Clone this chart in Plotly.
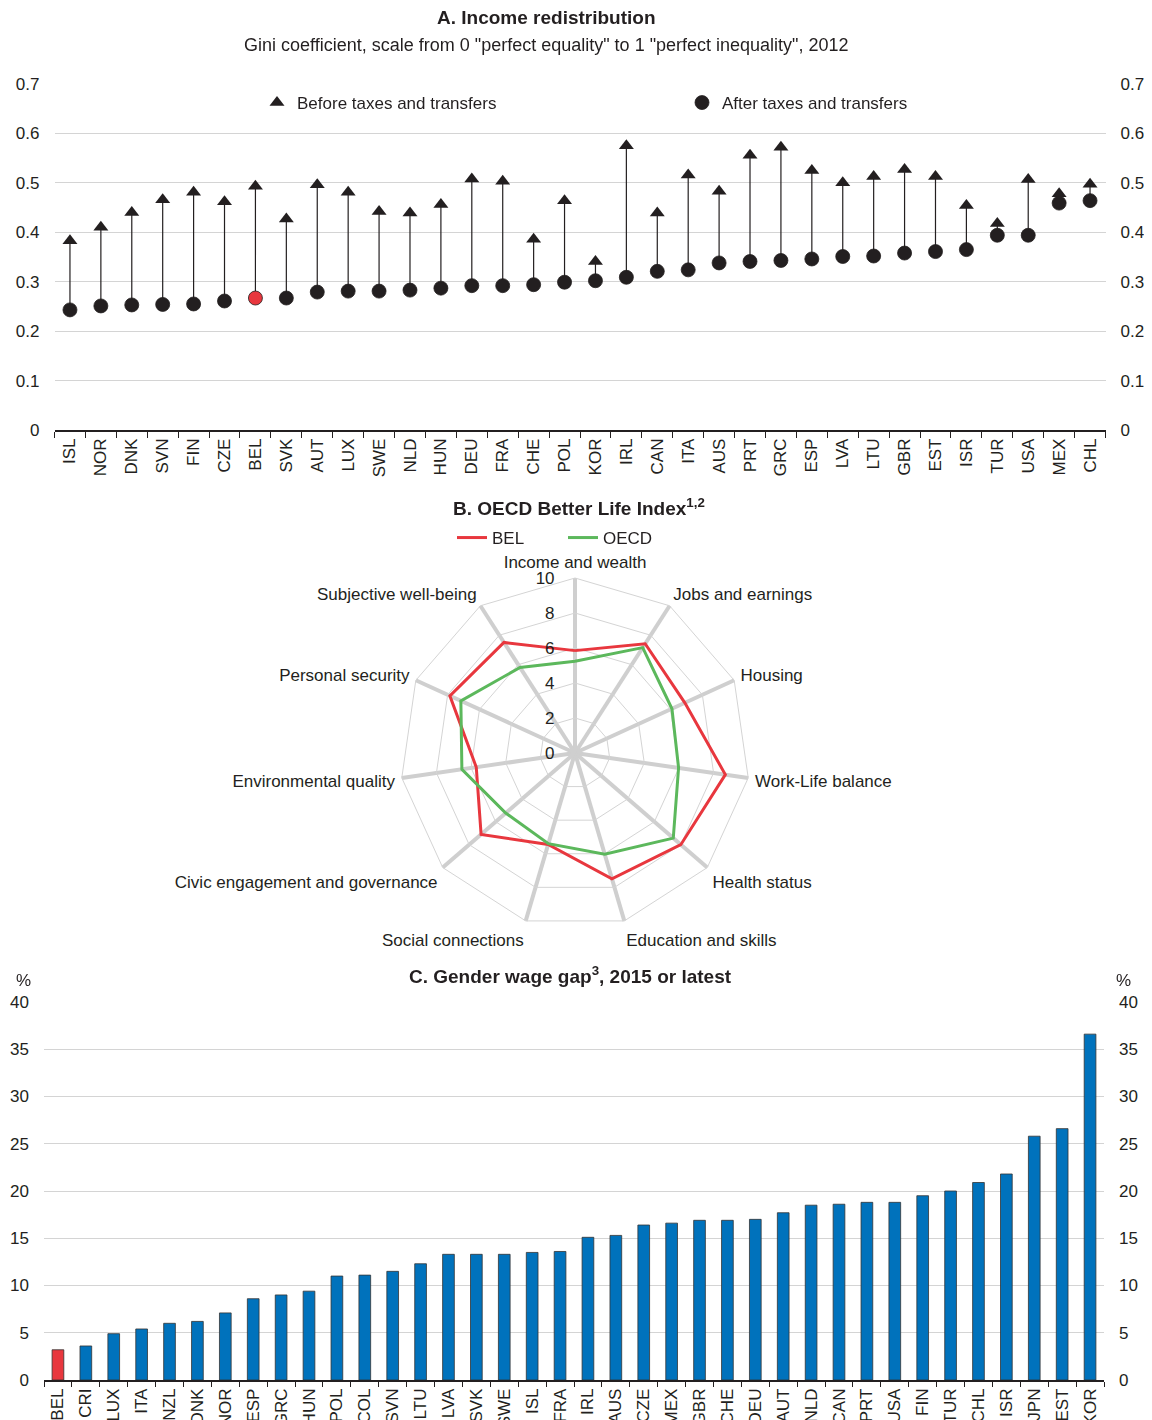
import plotly.graph_objects as go

# Panel A: Gini coefficient before / after taxes and transfers, 2012
gini_countries = ["ISL", "NOR", "DNK", "SVN", "FIN", "CZE", "BEL", "SVK", "AUT", "LUX", "SWE",
                  "NLD", "HUN", "DEU", "FRA", "CHE", "POL", "KOR", "IRL", "CAN", "ITA", "AUS",
                  "PRT", "GRC", "ESP", "LVA", "LTU", "GBR", "EST", "ISR", "TUR", "USA", "MEX", "CHL"]
gini_before = [0.383, 0.410, 0.440, 0.466, 0.481, 0.462, 0.493, 0.427, 0.496, 0.481, 0.442,
               0.439, 0.456, 0.508, 0.503, 0.386, 0.464, 0.341, 0.575, 0.439, 0.516, 0.483,
               0.556, 0.572, 0.525, 0.500, 0.513, 0.527, 0.513, 0.454, 0.418, 0.507, 0.478, 0.497]
gini_after = [0.243, 0.251, 0.253, 0.254, 0.255, 0.261, 0.267, 0.267, 0.279, 0.281, 0.281,
              0.283, 0.287, 0.292, 0.292, 0.294, 0.299, 0.302, 0.309, 0.321, 0.324, 0.338,
              0.341, 0.343, 0.346, 0.351, 0.352, 0.358, 0.361, 0.365, 0.394, 0.394, 0.459, 0.464]

# Panel B: Better Life Index
bli_dims = ["Income and wealth", "Jobs and earnings", "Housing", "Work-Life balance",
            "Health status", "Education and skills", "Social connections",
            "Civic engagement and governance", "Environmental quality",
            "Personal security", "Subjective well-being"]
bli_bel = [5.85, 7.42, 6.9, 8.68, 8.0, 7.49, 5.45, 7.1, 5.7, 7.86, 7.51]
bli_oecd = [5.24, 7.16, 6.09, 5.98, 7.43, 6.03, 5.4, 5.24, 6.53, 7.17, 5.81]

# Panel C: gender wage gap, %
gap_countries = ["BEL", "CRI", "LUX", "ITA", "NZL", "DNK", "NOR", "ESP", "GRC", "HUN", "POL",
                 "COL", "SVN", "LTU", "LVA", "SVK", "SWE", "ISL", "FRA", "IRL", "AUS", "CZE",
                 "MEX", "GBR", "CHE", "DEU", "AUT", "NLD", "CAN", "PRT", "USA", "FIN", "TUR",
                 "CHL", "ISR", "JPN", "EST", "KOR"]
gap_values = [3.2, 3.6, 4.9, 5.4, 6.0, 6.2, 7.1, 8.6, 9.0, 9.4, 11.0,
              11.1, 11.5, 12.3, 13.3, 13.3, 13.3, 13.5, 13.6, 15.1, 15.3, 16.4,
              16.6, 16.9, 16.9, 17.0, 17.7, 18.5, 18.6, 18.8, 18.8, 19.5, 20.0,
              20.9, 21.8, 25.8, 26.6, 36.6]

FONT = "Liberation Sans Narrow, Liberation Sans, Arial, sans-serif"
TXT = "#231f20"
DARK = "#231f20"
RED = "#e8373e"
GREEN = "#5cb85c"
BLUE = "#0072bc"
GRID = "#d4d4d4"

# page body has an 8px margin, so the figure is a little smaller than the window
PAD = 8
W, H = 1152 - PAD, 1420 - PAD


def px_x(v):
    return (v - PAD) / W


def px_y(v):
    return 1 - (v - PAD) / H


fig = go.Figure()

# stems from after to before
stem_x, stem_y = [], []
for c, a, b in zip(gini_countries, gini_after, gini_before):
    stem_x += [c, c, None]
    stem_y += [a, b, None]
fig.add_trace(go.Scatter(x=stem_x, y=stem_y, mode="lines", line=dict(color=DARK, width=1.2),
                         showlegend=False, hoverinfo="skip", xaxis="x", yaxis="y"))
fig.add_trace(go.Scatter(x=gini_countries, y=gini_before, mode="markers",
                         name="Before taxes and transfers",
                         marker=dict(symbol="triangle-up", size=13, color=DARK),
                         legend="legend", xaxis="x", yaxis="y"))
after_colors = [RED if c == "BEL" else DARK for c in gini_countries]
fig.add_trace(go.Scatter(x=gini_countries, y=gini_after, mode="markers",
                         name="After taxes and transfers",
                         marker=dict(symbol="circle", size=14, color=after_colors,
                                     line=dict(color=DARK, width=0.8)),
                         legend="legend", xaxis="x", yaxis="y"))
# invisible trace for the right-hand axis
fig.add_trace(go.Scatter(x=gini_countries, y=gini_after, mode="markers", opacity=0,
                         showlegend=False, hoverinfo="skip", xaxis="x", yaxis="y2"))

# radar
fig.add_trace(go.Scatterpolar(r=bli_bel + bli_bel[:1], theta=bli_dims + bli_dims[:1], mode="lines",
                              name="BEL", line=dict(color=RED, width=3), legend="legend2",
                              subplot="polar"))
fig.add_trace(go.Scatterpolar(r=bli_oecd + bli_oecd[:1], theta=bli_dims + bli_dims[:1], mode="lines",
                              name="OECD", line=dict(color=GREEN, width=3), legend="legend2",
                              subplot="polar"))

# bars
bar_colors = [RED if c == "BEL" else BLUE for c in gap_countries]
fig.add_trace(go.Bar(x=gap_countries, y=gap_values, marker=dict(color=bar_colors,
                                                                line=dict(color="#333333", width=0.8)),
                     width=0.42, showlegend=False, xaxis="x3", yaxis="y3"))
fig.add_trace(go.Scatter(x=gap_countries, y=gap_values, mode="markers", opacity=0,
                         showlegend=False, hoverinfo="skip", xaxis="x3", yaxis="y4"))

tickfont = dict(family=FONT, size=17, color=TXT)

# panel A axes
a_left, a_right = 54.5, 1105.5
fig.update_layout(
    xaxis=dict(domain=[px_x(a_left), px_x(a_right)], anchor="y", type="category",
               tickangle=-90, tickfont=tickfont, showline=True, linecolor=DARK, linewidth=1.5,
               ticks="outside", tickson="boundaries", ticklen=6, tickcolor=DARK,
               showgrid=False, range=[-0.5, len(gini_countries) - 0.5], automargin=False),
    yaxis=dict(domain=[px_y(430), px_y(84)], anchor="x", range=[0, 0.7], dtick=0.1,
               tickformat=".1~f", tickfont=tickfont, gridcolor=GRID, gridwidth=1.3,
               zeroline=False, ticklabelstandoff=14, automargin=False),
    yaxis2=dict(overlaying="y", side="right", anchor="x", range=[0, 0.7], dtick=0.1,
                tickformat=".1~f", tickfont=tickfont, showgrid=False, zeroline=False,
                ticklabelstandoff=14, automargin=False),
)

# panel C axes
c_left, c_right = 44, 1104
fig.update_layout(
    xaxis3=dict(domain=[px_x(c_left), px_x(c_right)], anchor="y3", type="category",
                tickangle=-90, tickfont=tickfont, showline=True, linecolor=DARK, linewidth=1.5,
                ticks="outside", tickson="boundaries", ticklen=5, tickcolor=DARK,
                showgrid=False, range=[-0.5, len(gap_countries) - 0.5], automargin=False),
    yaxis3=dict(domain=[px_y(1380), px_y(1002)], anchor="x3", range=[0, 40], dtick=5,
                tickfont=tickfont, gridcolor=GRID, gridwidth=1.3, zeroline=False,
                ticklabelstandoff=14, automargin=False),
    yaxis4=dict(overlaying="y3", side="right", anchor="x3", range=[0, 40], dtick=5,
                tickfont=tickfont, showgrid=False, zeroline=False, ticklabelstandoff=14,
                automargin=False),
)

# panel B polar
cx, cy, rad = 575, 753, 175
fig.update_layout(
    polar=dict(
        domain=dict(x=[px_x(cx - rad), px_x(cx + rad)], y=[px_y(cy + rad), px_y(cy - rad)]),
        gridshape="linear", bgcolor="white",
        radialaxis=dict(range=[0, 10], tickvals=[0, 2, 4, 6, 8, 10], angle=90, tickangle=90,
                        side="counterclockwise", tickfont=tickfont, showline=False,
                        ticks="outside", ticklen=14, tickcolor="rgba(0,0,0,0)",
                        gridcolor=GRID, gridwidth=1),
        angularaxis=dict(rotation=90, direction="clockwise", tickfont=tickfont,
                         ticks="outside", ticklen=3, tickcolor="rgba(0,0,0,0)",
                         showline=True, linecolor=GRID, linewidth=1,
                         gridcolor="#cfcfcf", gridwidth=3.5),
    ),
)

fig.update_layout(
    width=W, height=H, margin=dict(l=0, r=0, t=0, b=0),
    paper_bgcolor="white", plot_bgcolor="white",
    font=dict(family=FONT, size=17, color=TXT),
    bargap=0.5,
    legend=dict(orientation="h", x=px_x(257), y=px_y(103), xanchor="left", yanchor="middle",
                font=dict(family=FONT, size=17, color=TXT), bgcolor="rgba(0,0,0,0)",
                itemwidth=30, entrywidth=380, entrywidthmode="pixels", tracegroupgap=0),
    legend2=dict(orientation="h", x=px_x(452), y=px_y(538), xanchor="left", yanchor="middle",
                 font=dict(family=FONT, size=17, color=TXT), bgcolor="rgba(0,0,0,0)",
                 itemwidth=30, entrywidth=66, entrywidthmode="pixels"),
)

annotations = [
    dict(text="<b>A. Income redistribution</b>", x=px_x(546), y=px_y(18), font=dict(size=19)),
    dict(text='Gini coefficient, scale from 0 "perfect equality" to 1 "perfect inequality", 2012',
         x=px_x(546), y=px_y(45), font=dict(size=18)),
    dict(text="<b>B. OECD Better Life Index<sup>1,2</sup></b>", x=px_x(579), y=px_y(507),
         font=dict(size=19)),
    dict(text="<b>C. Gender wage gap<sup>3</sup>, 2015 or latest</b>", x=px_x(570), y=px_y(975),
         font=dict(size=19)),
    dict(text="%", x=px_x(23), y=px_y(980), font=dict(size=17)),
    dict(text="%", x=px_x(1123), y=px_y(980), font=dict(size=17)),
]
for a in annotations:
    a.update(xref="paper", yref="paper", showarrow=False, xanchor="center", yanchor="middle")
fig.update_layout(annotations=annotations)

fig.write_html("out.html")
